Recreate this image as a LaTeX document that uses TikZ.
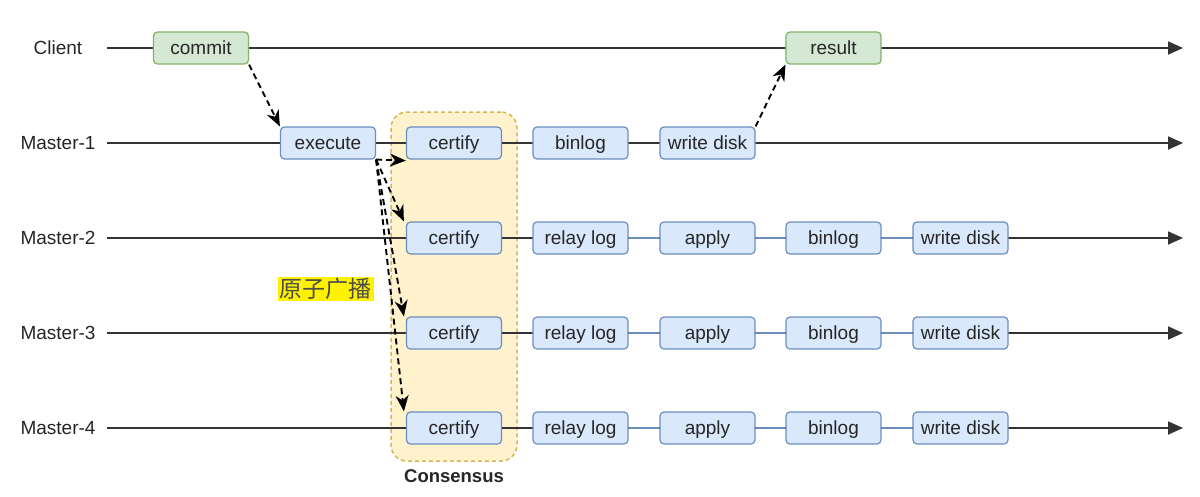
\documentclass[tikz,border=0pt]{standalone}
\usepackage{fontspec}
\setmainfont{Liberation Sans}
\newfontfamily\cjk{Noto Sans CJK SC}
\usetikzlibrary{arrows.meta}
\definecolor{bluefill}{HTML}{DAE8FC}
\definecolor{blueline}{HTML}{6C8EBF}
\definecolor{greenfill}{HTML}{D5E8D4}
\definecolor{greenline}{HTML}{82B366}
\definecolor{consfill}{HTML}{FFF2CC}
\definecolor{consline}{HTML}{D6B656}
\definecolor{darkline}{HTML}{333333}
\tikzset{
  box/.style={draw=blueline, fill=bluefill, line width=1.2pt, rounded corners=4pt,
    minimum width=95pt, minimum height=32pt, inner sep=0pt,
    text height=13.6pt, text depth=0pt,
    font=\fontsize{19}{22}\selectfont, text=black!85},
  gbox/.style={box, draw=greenline, fill=greenfill},
  rowlbl/.style={font=\fontsize{19}{22}\selectfont, text=black!85, inner sep=0pt,
    text height=13.6pt, text depth=0pt},
  timeline/.style={draw=darkline, line width=1.8pt, -{Triangle[length=15pt,width=13pt]}},
  bluelink/.style={draw=blueline, line width=1.6pt},
  msg/.style={draw=black, line width=1.9pt, dash pattern=on 6pt off 4pt,
    -{Stealth[length=16pt,width=13pt,inset=5pt]}},
}
\begin{document}
\begin{tikzpicture}[x=1pt,y=-1pt]
\useasboundingbox[fill=white] (0,0) rectangle (1200,496);

% consensus region
\node[draw=consline, fill=consfill, dash pattern=on 4pt off 3pt, line width=1.5pt, rounded corners=16pt,
  minimum width=126pt, minimum height=349pt, inner sep=0pt] (cons) at (454,286.5) {};
\node[font=\bfseries\fontsize{18.5}{21}\selectfont, text=black!85, inner sep=0pt,
  text height=13.3pt, text depth=0pt] (conslbl) at (454,476) {Consensus};

% row labels
\node[rowlbl] (lblC) at (58,48) {Client};
\node[rowlbl] (lbl1) at (58,143) {Master-1};
\node[rowlbl] (lbl2) at (58,238) {Master-2};
\node[rowlbl] (lbl3) at (58,333) {Master-3};
\node[rowlbl] (lbl4) at (58,428) {Master-4};

% timeline anchors
\coordinate (sC) at (107,48);  \coordinate (eC) at (1183,48);
\coordinate (s1) at (107,143); \coordinate (e1) at (1183,143);
\coordinate (s2) at (107,238); \coordinate (e2) at (1183,238);
\coordinate (s3) at (107,333); \coordinate (e3) at (1183,333);
\coordinate (s4) at (107,428); \coordinate (e4) at (1183,428);
\draw[timeline] (sC) -- (eC);
\draw[timeline] (s1) -- (e1);
\draw[timeline] (s2) -- (e2);
\draw[timeline] (s3) -- (e3);
\draw[timeline] (s4) -- (e4);

% Client
\node[gbox] (commit) at (201,48) {commit};
\node[gbox] (result) at (833.5,48) {result};

% Master-1
\node[box] (execute) at (328,143) {execute};
\node[box] (cert1) at (454,143) {certify};
\node[box] (bin1) at (580.5,143) {binlog};
\node[box] (wd1) at (707.5,143) {write disk};

% Master-2..4
\foreach \r/\y in {2/238,3/333,4/428}{
  \node[box] (cert\r) at (454,\y) {certify};
  \node[box] (relay\r) at (580.5,\y) {relay log};
  \node[box] (apply\r) at (707.5,\y) {apply};
  \node[box] (bin\r) at (833.5,\y) {binlog};
  \node[box] (wd\r) at (960.5,\y) {write disk};
  \draw[bluelink] (relay\r) -- (apply\r);
  \draw[bluelink] (apply\r) -- (bin\r);
  \draw[bluelink] (bin\r) -- (wd\r);
}

% atomic broadcast label
\node[fill=yellow, inner xsep=2pt, inner ysep=1pt, font=\cjk\fontsize{23}{27}\selectfont, text=black!70] (ab) at (325.5,289) {原子广播};

% messages
\draw[msg] (commit.south east) -- (execute.north west);
\draw[msg] (wd1.north east) -- (result.south west);
\draw[msg] (execute.south east) -- ([yshift=-1pt]cert1.south west);
\draw[msg] (execute.south east) -- ([xshift=-2pt]cert2.north west);
\draw[msg] (execute.south east) -- ([xshift=-2pt]cert3.north west);
\draw[msg] (execute.south east) -- ([xshift=-2pt]cert4.north west);
\end{tikzpicture}
\end{document}
